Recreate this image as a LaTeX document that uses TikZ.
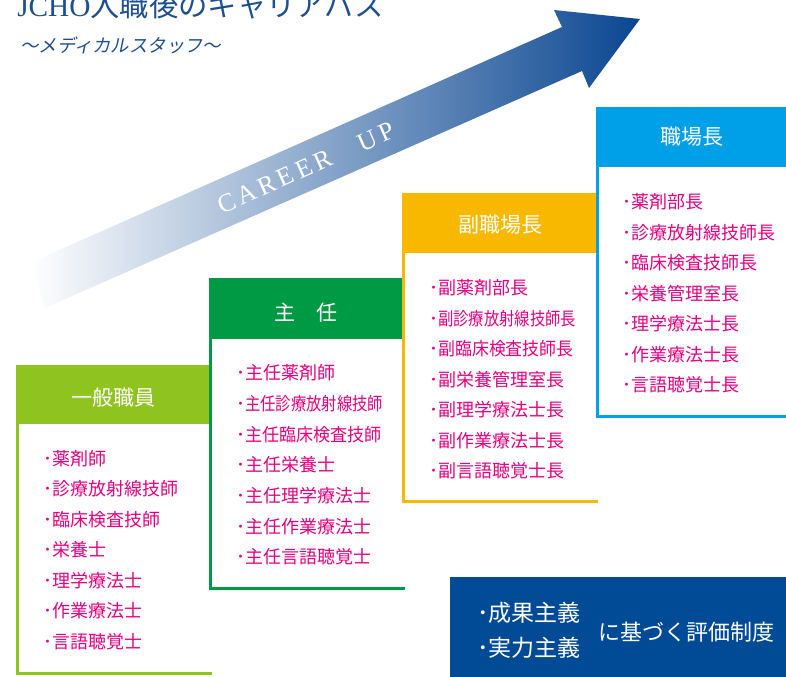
\documentclass[tikz,border=0pt]{standalone}
\usepackage{graphicx}
\usepackage{fontspec}
\newfontfamily\cjk{Noto Sans CJK JP}
\newfontfamily\cjkslant{Noto Sans CJK JP}[FakeSlant=0.2]
\newfontfamily\lat{Liberation Serif}
\newfontfamily\latsp{Liberation Serif}[LetterSpace=15]
\definecolor{cA}{HTML}{8FC31F}
\definecolor{cB}{HTML}{009944}
\definecolor{cC}{HTML}{F8B800}
\definecolor{cD}{HTML}{00A0E9}
\definecolor{itempink}{HTML}{E4007F}
\definecolor{navybox}{HTML}{004A96}
\definecolor{titleblue}{HTML}{1D4F91}
\definecolor{arrowblue}{RGB}{10,70,145}
\newcommand{\narrow}[2]{\scalebox{#1}[1]{#2}}
\tikzset{
  hdr/.style={text=white, font=\cjk\fontsize{15.75pt}{18pt}\selectfont, inner sep=0pt, anchor=base},
  item/.style={text=itempink, font=\cjk\fontsize{13.5pt}{16pt}\selectfont, inner sep=0pt, anchor=base west},
  frameline/.style={line width=2.25pt},
  btext/.style={text=white, inner sep=0pt, anchor=base west},
}
\begin{document}
\begin{tikzpicture}[x=0.75pt,y=-0.75pt]
\useasboundingbox (0,0) rectangle (786,677);
\clip (0,0) rectangle (786,677);
% arrow
\shade[left color=white, right color=arrowblue]
  (30,263) -- (562,27) -- (554,10) -- (640,19) -- (589,88) -- (582,71) -- (45,308) -- cycle;
\node[rotate=24, text=white, inner sep=0pt, font=\latsp\fontsize{19.5pt}{22pt}\selectfont] (cu) at (306,168) {CAREER\hspace{1.2em}UP};
% title
\node[inner sep=0pt, anchor=base west, text=titleblue, font=\fontsize{22pt}{24pt}\selectfont] (ttl) at (17,16.5) {{\lat JCHO}{\cjk 入職後のキャリアパス}};
\node[inner sep=0pt, anchor=base west, text=titleblue, font=\cjkslant\fontsize{13.8pt}{16pt}\selectfont] (sub) at (20,53) {～メディカルスタッフ～};
% box 1
\fill[cA] (16,365) rectangle (210,424);
\draw[cA, frameline] (17.5,424) -- (17.5,673.5) -- (212,673.5);
% box 2
\fill[cB] (209,278) rectangle (403,339);
\draw[cB, frameline] (210.5,339) -- (210.5,588.5) -- (404.5,588.5);
% box 3
\fill[cC] (402,193) rectangle (596,253);
\draw[cC, frameline] (403.5,253) -- (403.5,501.5) -- (597.5,501.5);
% box 4
\fill[cD] (596,107) rectangle (790,167);
\draw[cD, frameline] (597.5,167) -- (597.5,416.5) -- (790,416.5);
% headers
\node[hdr] (h1) at (113,406) {一般職員};
\node[hdr] (h2) at (306,321) {主　任};
\node[hdr] (h3) at (500,233) {副職場長};
\node[hdr] (h4) at (692,145) {職場長};
% items
\foreach \t [count=\k from 0] in {薬剤師,診療放射線技師,臨床検査技師,栄養士,理学療法士,作業療法士,言語聴覚士}
  \node[item] (a\k) at (43,465+30.5*\k) {･\t};
\foreach \t [count=\k from 0] in {主任薬剤師,{\narrow{0.85}{主任診療放射線技師}},{\narrow{0.95}{主任臨床検査技師}},主任栄養士,主任理学療法士,主任作業療法士,主任言語聴覚士}
  \node[item] (b\k) at (236,380+30.6*\k) {･\t};
\foreach \t [count=\k from 0] in {副薬剤部長,{\narrow{0.85}{副診療放射線技師長}},{\narrow{0.94}{副臨床検査技師長}},副栄養管理室長,副理学療法士長,副作業療法士長,副言語聴覚士長}
  \node[item] (c\k) at (429,295+30.4*\k) {･\t};
\foreach \t [count=\k from 0] in {薬剤部長,診療放射線技師長,臨床検査技師長,栄養管理室長,理学療法士長,作業療法士長,言語聴覚士長}
  \node[item] (d\k) at (622,209+30.5*\k) {･\t};
% bottom box
\fill[navybox] (450,577) rectangle (790,680);
\node[btext, font=\cjk\fontsize{17.25pt}{20pt}\selectfont] (e1) at (477,621.5) {･成果主義};
\node[btext, font=\cjk\fontsize{17.25pt}{20pt}\selectfont] (e2) at (477,656.5) {･実力主義};
\node[btext, font=\cjk\fontsize{16.5pt}{20pt}\selectfont] (e3) at (598,640.5) {に基づく評価制度};
\end{tikzpicture}
\end{document}
